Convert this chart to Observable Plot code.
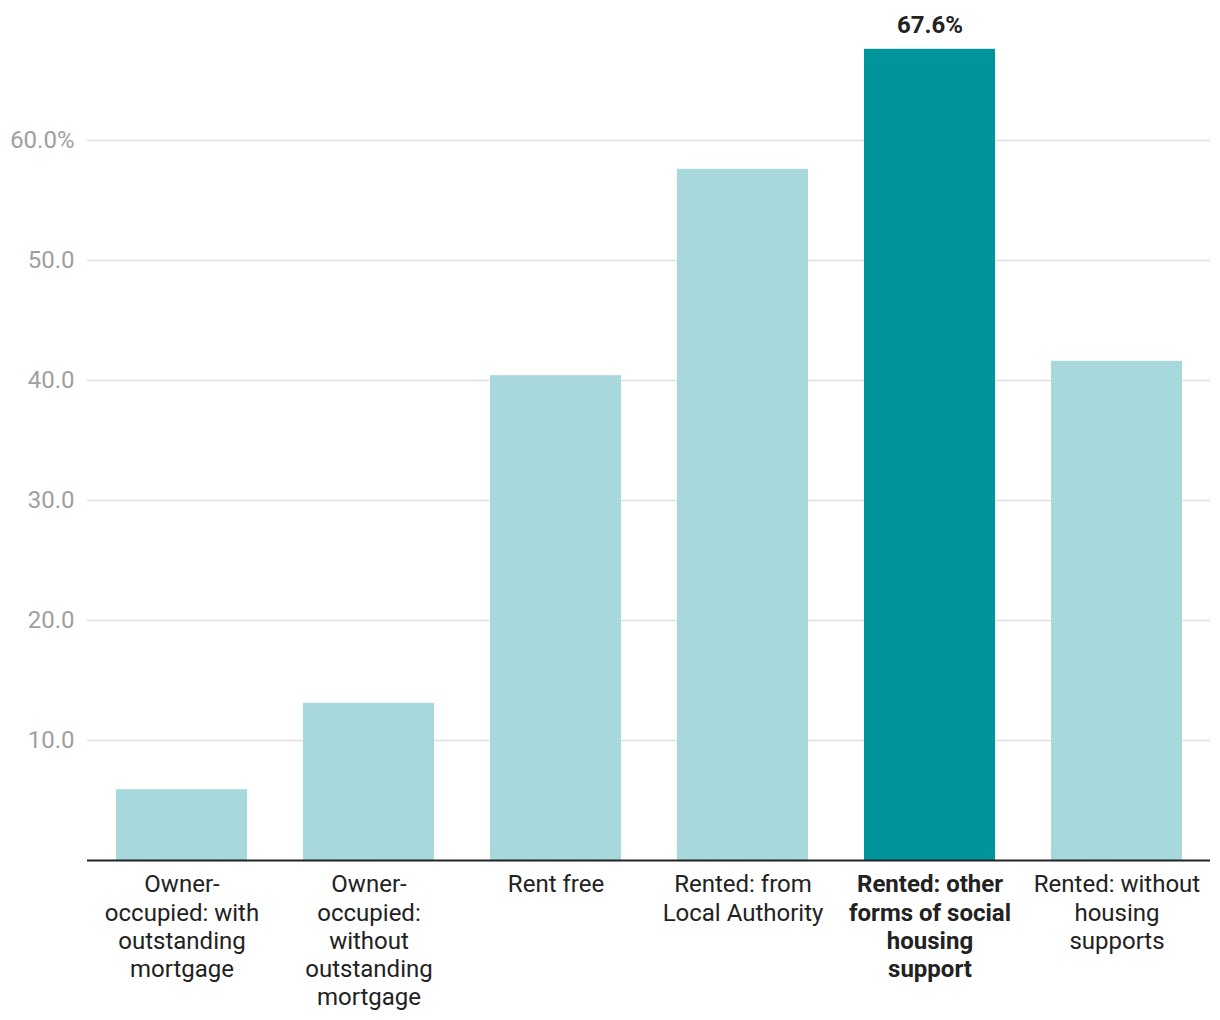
<!DOCTYPE html>
<html>
<head>
<meta charset="utf-8">
<script src="https://cdn.jsdelivr.net/npm/d3@7"></script>
<script src="https://cdn.jsdelivr.net/npm/@observablehq/plot@0.6"></script>
<style>
  html, body { margin: 0; padding: 0; background: #fff; }
  #chart svg { display: block; }
</style>
</head>
<body>
<div id="chart"></div>
<script>
const categories = [
  "Owner-occupied: with outstanding mortgage",
  "Owner-occupied: without outstanding mortgage",
  "Rent free",
  "Rented: from Local Authority",
  "Rented: other forms of social housing support",
  "Rented: without housing supports"
];
const tickLabels = [
  "Owner-\noccupied: with\noutstanding\nmortgage",
  "Owner-\noccupied:\nwithout\noutstanding\nmortgage",
  "Rent free",
  "Rented: from\nLocal Authority",
  "Rented: other\nforms of social\nhousing\nsupport",
  "Rented: without\nhousing\nsupports"
];
const values = [5.9, 13.1, 40.4, 57.6, 67.6, 41.6];
const highlight = "Rented: other forms of social housing support";
const yTicks = [10, 20, 30, 40, 50, 60];

const data = categories.map((c, i) => ({category: c, value: values[i], hl: c === highlight}));
const labelOf = new Map(categories.map((c, i) => [c, tickLabels[i]]));

const chart = Plot.plot({
  width: 1220,
  height: 1020,
  marginLeft: 87,
  marginRight: 10,
  marginTop: 20,
  marginBottom: 160,
  style: {fontFamily: "Roboto, sans-serif", fontSize: "24px", background: "#fff"},
  x: {domain: categories, paddingInner: 0.3, paddingOuter: 0.15, align: 0.5, label: null},
  y: {domain: [0, 70], label: null},
  marks: [
    Plot.gridY(yTicks, {stroke: "#e0e0e0", strokeOpacity: 1, strokeWidth: 1.5}),
    Plot.axisY(yTicks, {
      tickSize: 0, tickPadding: 13, fontSize: 24, color: "#a0a0a0", label: null,
      tickFormat: d => d === 60 ? "60.0%" : d.toFixed(1)
    }),
    Plot.barY(data, {x: "category", y: "value", fill: d => d.hl ? "#00959a" : "#a7d9dc"}),
    Plot.ruleY([0], {stroke: "#222", strokeWidth: 2}),
    Plot.axisX(categories.filter(c => c !== highlight), {
      tickSize: 0, tickPadding: 12, fontSize: 24, lineHeight: 1.17, color: "#222", label: null,
      tickFormat: d => labelOf.get(d)
    }),
    Plot.axisX([highlight], {
      tickSize: 0, tickPadding: 12, fontSize: 24, lineHeight: 1.17, color: "#222", fontWeight: "bold", label: null,
      tickFormat: d => labelOf.get(d)
    }),
    Plot.text(data.filter(d => d.hl), {
      x: "category", y: "value", text: d => d.value.toFixed(1) + "%",
      dy: -24, fontWeight: "bold", fontSize: 24, fill: "#222"
    })
  ]
});
document.getElementById("chart").append(chart);
</script>
</body>
</html>
